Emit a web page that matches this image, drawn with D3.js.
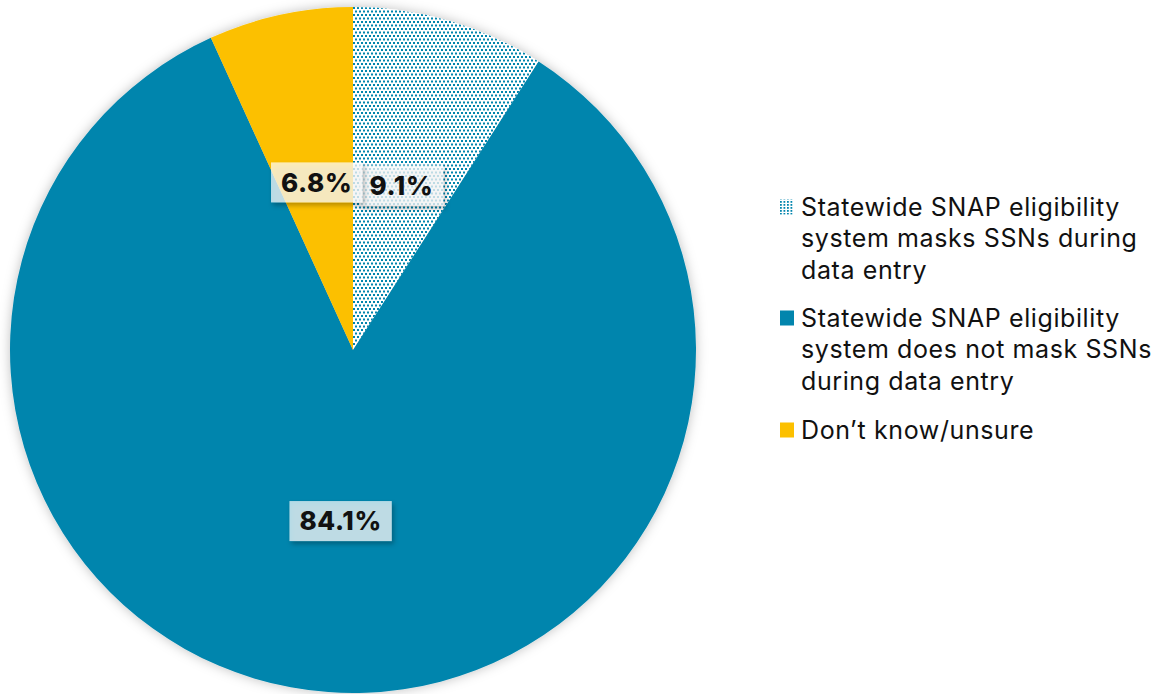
<!DOCTYPE html>
<html>
<head>
<meta charset="utf-8">
<script src="https://cdn.jsdelivr.net/npm/d3@7"></script>
<style>
  html, body { margin: 0; padding: 0; background: #ffffff; }
  svg { display: block; font-family: Inter, "Open Sans", sans-serif; }
</style>
</head>
<body>
<svg id="chart" width="1163" height="694"></svg>
<script>
// Survey responses: SSN masking in statewide SNAP eligibility systems
const categories = [
  "Statewide SNAP eligibility system masks SSNs during data entry",
  "Statewide SNAP eligibility system does not mask SSNs during data entry",
  "Don’t know/unsure"
];
const values = [9.1, 84.1, 6.8];
const legendLines = [
  ["Statewide SNAP eligibility", "system masks SSNs during", "data entry"],
  ["Statewide SNAP eligibility", "system does not mask SSNs", "during data entry"],
  ["Don’t know/unsure"]
];
const colors = ["url(#dots)", "#0285ad", "#fcc000"];
const legendSwatch = ["url(#dotsLegend)", "#0285ad", "#fcc000"];

const svg = d3.select("#chart");
const defs = svg.append("defs");

// Dotted fill for the "masks" slice
const pat = defs.append("pattern")
  .attr("id", "dots").attr("patternUnits", "userSpaceOnUse")
  .attr("width", 4).attr("height", 7);
pat.append("rect").attr("width", 4).attr("height", 7).attr("fill", "#ffffff");
pat.append("rect").attr("x", 0).attr("y", 0).attr("width", 2).attr("height", 2).attr("fill", "#0285ad");
pat.append("rect").attr("x", 2).attr("y", 3.5).attr("width", 2).attr("height", 2).attr("fill", "#0285ad");

const patL = defs.append("pattern")
  .attr("id", "dotsLegend").attr("patternUnits", "userSpaceOnUse")
  .attr("width", 3.5).attr("height", 3);
patL.append("rect").attr("width", 3.5).attr("height", 3).attr("fill", "#ffffff");
patL.append("rect").attr("width", 1.8).attr("height", 1.8).attr("fill", "#0285ad");

// Soft shadow around the pie
const pieShadow = defs.append("filter").attr("id", "pieShadow")
  .attr("x", "-10%").attr("y", "-10%").attr("width", "120%").attr("height", "120%");
pieShadow.append("feDropShadow").attr("dx", 0).attr("dy", 0)
  .attr("stdDeviation", 6).attr("flood-color", "#000").attr("flood-opacity", 0.25);

// Shadow under the value labels
const labelShadow = defs.append("filter").attr("id", "labelShadow")
  .attr("x", "-30%").attr("y", "-40%").attr("width", "160%").attr("height", "180%");
labelShadow.append("feDropShadow").attr("dx", 2).attr("dy", 3)
  .attr("stdDeviation", 2.5).attr("flood-color", "#000").attr("flood-opacity", 0.4);

const cx = 353, cy = 350, R = 343;

const pie = d3.pie().sort(null).value(d => d);
const arcs = pie(values);
const arc = d3.arc().innerRadius(0).outerRadius(R);

const g = svg.append("g").attr("transform", `translate(${cx},${cy})`);

g.append("g").attr("filter", "url(#pieShadow)")
  .selectAll("path").data(arcs).join("path")
  .attr("d", arc)
  .attr("fill", (d, i) => colors[i]);

// Value labels at each slice's centroid
const labels = g.append("g").selectAll("g").data(arcs).join("g")
  .attr("transform", d => `translate(${arc.centroid(d)})`);

labels.each(function (d) {
  const sel = d3.select(this);
  const txt = sel.append("text")
    .attr("text-anchor", "middle")
    .attr("dy", "0.36em")
    .attr("font-size", 26)
    .attr("font-weight", 800)
    .attr("letter-spacing", 0.6)
    .attr("fill", "#111")
    .text(d.data.toFixed(1) + "%");
  const bb = txt.node().getBBox();
  sel.insert("rect", "text")
    .attr("x", bb.x - 10).attr("y", -20)
    .attr("width", bb.width + 20).attr("height", 40)
    .attr("fill", "rgba(255,255,255,0.7)")
    .attr("filter", "url(#labelShadow)");
});

// Legend
const legend = svg.append("g").attr("transform", "translate(780,0)");
const itemTop = [207, 318, 430];
const lineH = 31.5;
legendLines.forEach((lines, i) => {
  const item = legend.append("g").attr("transform", `translate(0,${itemTop[i]})`);
  item.append("rect")
    .attr("x", 0).attr("y", -7.5).attr("width", 14).attr("height", 15)
    .attr("fill", legendSwatch[i]);
  item.append("text")
    .attr("font-size", 25)
    .attr("letter-spacing", 0.6)
    .attr("fill", "#111")
    .selectAll("tspan").data(lines).join("tspan")
    .attr("x", 21)
    .attr("y", (l, j) => j * lineH)
    .attr("dy", "0.35em")
    .text(l => l);
});
</script>
</body>
</html>
